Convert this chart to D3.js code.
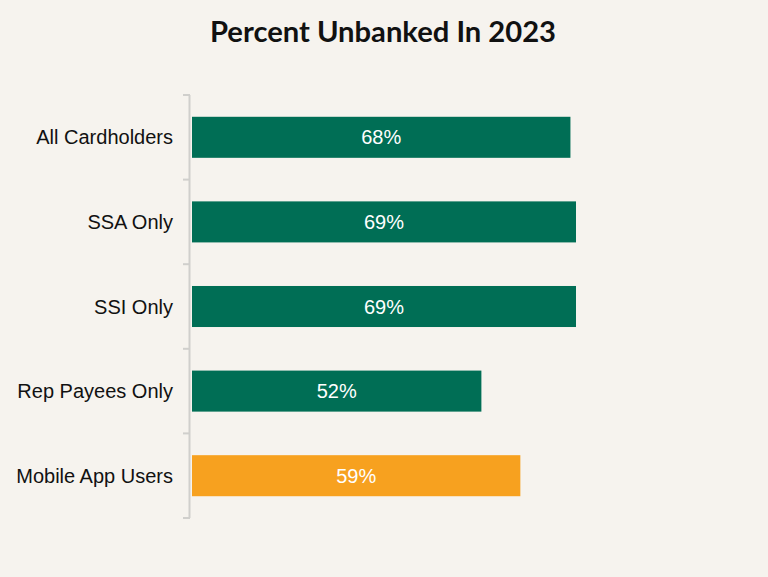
<!DOCTYPE html>
<html><head><meta charset="utf-8">
<script src="https://cdn.jsdelivr.net/npm/d3@7"></script>
<style>html,body{margin:0;padding:0;background:#f6f3ee;}</style>
</head><body>
<script>
const categories = ["All Cardholders","SSA Only","SSI Only","Rep Payees Only","Mobile App Users"];
const values = [68,69,69,52,59];
const barColors = ["#006e55","#006e55","#006e55","#006e55","#f7a11f"];
const title = "Percent Unbanked In 2023";

const W=768,H=577;
const svg=d3.select("body").append("svg").attr("width",W).attr("height",H).style("display","block");
svg.append("rect").attr("width",W).attr("height",H).attr("fill","#f6f3ee");

const x=d3.scaleLinear().domain([0,69]).range([192,576]);
const y=d3.scaleBand().domain(categories).range([95,518]).paddingInner(0.515).paddingOuter(0.2575);
const yb=d3.scaleBand().domain(categories).range([95,518]);

svg.append("text").attr("x",383).attr("y",42).attr("text-anchor","middle")
  .attr("font-family","Lato, 'Open Sans', sans-serif").attr("font-weight","bold").attr("font-size",29)
  .attr("textLength",346).attr("lengthAdjust","spacingAndGlyphs")
  .attr("fill","#111").text(title);

// axis line and ticks
const ax=svg.append("g");
ax.append("line").attr("x1",189.5).attr("x2",189.5).attr("y1",95).attr("y2",518)
  .attr("stroke","#d0cfcc").attr("stroke-width",2);
const bounds=categories.map(c=>yb(c)).concat([518]);
ax.selectAll("line.t").data(bounds).join("line").attr("class","t")
  .attr("x1",183).attr("x2",190).attr("y1",d=>d).attr("y2",d=>d)
  .attr("stroke","#d0cfcc").attr("stroke-width",2);

svg.selectAll("rect.bar").data(categories).join("rect").attr("class","bar")
  .attr("x",x(0)).attr("y",d=>y(d)).attr("width",(d,i)=>x(values[i])-x(0)).attr("height",y.bandwidth())
  .attr("fill",(d,i)=>barColors[i]);

svg.selectAll("text.val").data(categories).join("text").attr("class","val")
  .attr("x",(d,i)=>(x(0)+x(values[i]))/2).attr("y",d=>y(d)+y.bandwidth()/2).attr("dy","0.35em")
  .attr("text-anchor","middle").attr("font-family","'Liberation Sans', Arial, sans-serif").attr("font-size",20)
  .attr("fill","#fff").text((d,i)=>values[i]+"%");

svg.selectAll("text.cat").data(categories).join("text").attr("class","cat")
  .attr("x",173).attr("y",d=>y(d)+y.bandwidth()/2).attr("dy","0.35em")
  .attr("text-anchor","end").attr("font-family","'Liberation Sans', Arial, sans-serif").attr("font-size",20)
  .attr("fill","#111").text(d=>d);
</script>
</body></html>
